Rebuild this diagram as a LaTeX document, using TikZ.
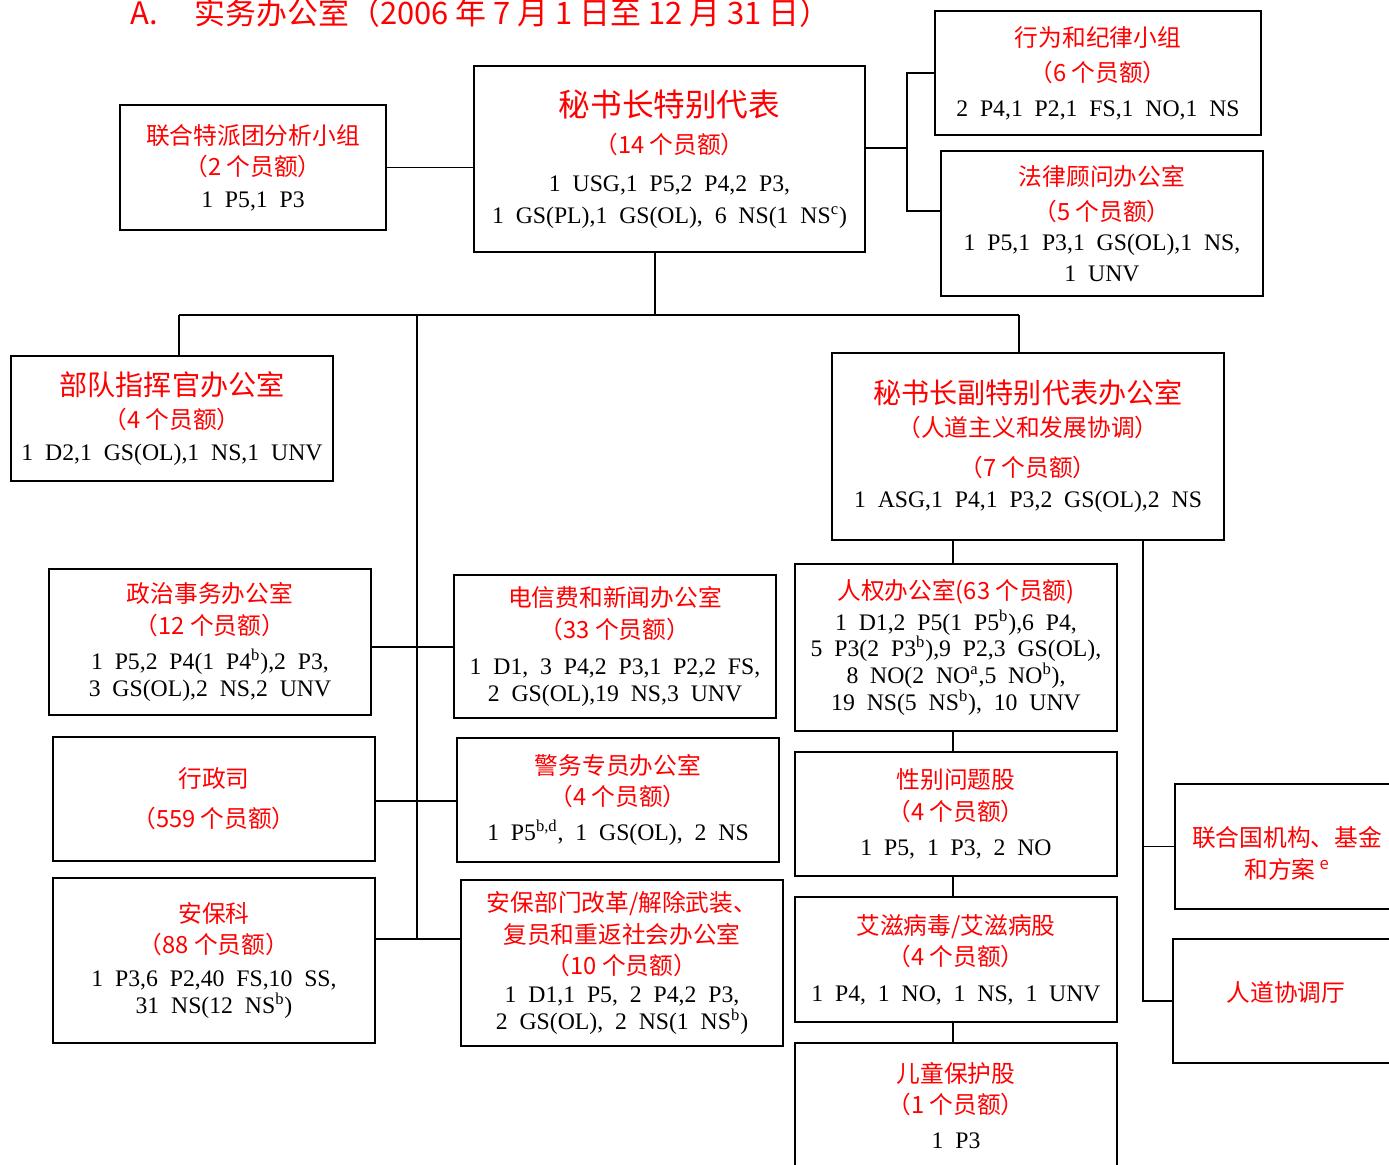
\documentclass[tikz,border=0pt]{standalone}
\usepackage{fontspec}
\setmainfont{Liberation Serif}[WordSpace=2]
\newfontfamily\hei{Noto Sans CJK SC}
\usepackage{tikz}
\usetikzlibrary{calc,positioning}

\newcommand{\rtxt}[1]{{\hei\fontsize{13.5}{18}\selectfont\color{red}#1}}
\newcommand{\rbig}[1]{{\hei\fontsize{16}{18}\selectfont\color{red}#1}}
\newcommand{\rhuge}[1]{{\hei\fontsize{18}{18}\selectfont\color{red}#1}}

\begin{document}
\begin{tikzpicture}[x=0.02cm, y=-0.02cm,
    unitbox/.style 2 args={draw, line width=1.1pt, minimum width=#1*0.02cm, minimum height=#2*0.02cm,
        inner sep=0pt, align=center, font=\fontsize{13.5}{18}\selectfont},
    link/.style={line width=1.1pt},
    buslink/.style={line width=1.6pt}
    ]
    \useasboundingbox (0,0) rectangle (1389,1164);
    \clip (0,0) rectangle (1389,1164);

    \node[anchor=west, inner sep=0pt, text=red, font=\hei\fontsize{17.6}{20}\selectfont] (title) at (130,13)
        {A.\hspace{1.2em}实务办公室（2006 年 7 月 1 日至 12 月 31 日）};

    % top level
    \node[unitbox={266}{125}] (jmac) at (253,167.5)
        {\rtxt{联合特派团分析小组}\\\rtxt{（2 个员额）}\\1 P5,1 P3};
    \node[unitbox={391}{186}] (srsg) at (669.5,159)
        {\rhuge{秘书长特别代表}\\[3pt]\rtxt{（14 个员额）}\\[4pt]1 USG,1 P5,2 P4,2 P3,\\1 GS(PL),1 GS(OL), 6 NS(1 NS\textsuperscript{c})};
    \node[unitbox={326}{124}] (conduct) at (1098,73)
        {\rtxt{行为和纪律小组}\\[2pt]\rtxt{（6 个员额）}\\[2pt]2 P4,1 P2,1 FS,1 NO,1 NS};
    \node[unitbox={322}{145}] (legal) at (1102,223.5)
        {\rtxt{法律顾问办公室}\\[2pt]\rtxt{（5 个员额）}\\[-1pt]1 P5,1 P3,1 GS(OL),1 NS,\\1 UNV};

    % second level
    \node[unitbox={322}{125}] (fc) at (172,418.5)
        {\rbig{部队指挥官办公室}\\[0.7pt]\rtxt{（4 个员额）}\\1 D2,1 GS(OL),1 NS,1 UNV};
    \node[unitbox={392}{187}] (dsrsg) at (1028,446.5)
        {\rbig{秘书长副特别代表办公室}\\[0.7pt]\rtxt{（人道主义和发展协调）}\\[4.5pt]\rtxt{（7 个员额）}\\1 ASG,1 P4,1 P3,2 GS(OL),2 NS};

    % left column
    \node[unitbox={322}{146}] (pa) at (210,642)
        {\rtxt{政治事务办公室}\\\rtxt{（12 个员额）}\\[2.4pt]1 P5,2 P4(1 P4\textsuperscript{b}),2 P3,\\[-2.7pt]3 GS(OL),2 NS,2 UNV};
    \node[unitbox={322}{124}] (adm) at (214,799)
        {\rtxt{行政司}\\[4.7pt]\rtxt{（559 个员额）}};
    \node[unitbox={322}{165}] (sec) at (214,960.5)
        {\rtxt{安保科}\\\rtxt{（88 个员额）}\\[0.7pt]1 P3,6 P2,40 FS,10 SS,\\[-2.7pt]31 NS(12 NS\textsuperscript{b})};

    % middle column
    \node[unitbox={322}{143}] (tel) at (615,646.5)
        {\rtxt{电信费和新闻办公室}\\\rtxt{（33 个员额）}\\[2.4pt]1 D1, 3 P4,2 P3,1 P2,2 FS,\\[-2.7pt]2 GS(OL),19 NS,3 UNV};
    \node[unitbox={322}{124}] (police) at (618,800)
        {\rtxt{警务专员办公室}\\\rtxt{（4 个员额）}\\[2pt]1 P5\textsuperscript{b,d}, 1 GS(OL), 2 NS};
    \node[unitbox={322}{166}] (ssr) at (622,963)
        {\rtxt{安保部门改革/解除武装、}\\\rtxt{复员和重返社会办公室}\\\rtxt{（10 个员额）}\\[-2.1pt]1 D1,1 P5, 2 P4,2 P3,\\[-2.7pt]2 GS(OL), 2 NS(1 NS\textsuperscript{b})};

    % right column
    \node[unitbox={322}{167}] (hr) at (956,647.5)
        {\rtxt{人权办公室(63 个员额)}\\[-0.4pt]1 D1,2 P5(1 P5\textsuperscript{b}),6 P4,\\[-3.3pt]5 P3(2 P3\textsuperscript{b}),9 P2,3 GS(OL),\\[-2.7pt]8 NO(2 NO\textsuperscript{a},5 NO\textsuperscript{b}),\\[-2.7pt]19 NS(5 NS\textsuperscript{b}), 10 UNV};
    \node[unitbox={322}{124}] (gen) at (956,814)
        {\rtxt{性别问题股}\\\rtxt{（4 个员额）}\\[2pt]1 P5, 1 P3, 2 NO};
    \node[unitbox={322}{125}] (aids) at (956,959.5)
        {\rtxt{艾滋病毒/艾滋病股}\\\rtxt{（4 个员额）}\\[2pt]1 P4, 1 NO, 1 NS, 1 UNV};
    \node[unitbox={322}{125}] (cp) at (956,1105.5)
        {\rtxt{儿童保护股}\\\rtxt{（1 个员额）}\\[2pt]1 P3};

    \node[unitbox={224}{125}, label={[yshift=-4pt, align=center, font=\fontsize{13.5}{18}\selectfont]center:\rtxt{联合国机构、基金}\\\rtxt{和方案\,\textsuperscript{e}}}] (agency) at (1287,846.5) {};
    \node[unitbox={226}{124}, label={[yshift=5pt]center:\rtxt{人道协调厅}}] (ocha) at (1286,1001) {};

    % junction points
    \coordinate (jr) at (907,148);
    \coordinate (lg) at (941,211);
    \coordinate (bus) at (655,315);
    \coordinate (busL) at (179,315);
    \coordinate (busR) at (1019,315);
    \coordinate (spine) at (417,315);
    \coordinate (chain) at (953,540);
    \coordinate (sp2) at (1143,540);

    \draw[link] (jmac.east) -- (jmac.east -| srsg.west);
    \draw[link] (srsg.east |- jr) -- (jr);
    \draw[link] (conduct.west) -| (jr) |- (lg);

    \draw[link] (bus |- srsg.south) -- (bus);
    \draw[buslink] (busL) -- (busR);
    \draw[link] (busL) -- (busL |- fc.north);
    \draw[link] (busR) -- (busR |- dsrsg.north);

    \foreach \lft/\rgt/\yy in {pa/tel/647, adm/police/801, sec/ssr/939} {
        \coordinate (br\lft) at (417,\yy);
        \draw[link] (\lft.east |- br\lft) -- (\rgt.west |- br\lft);
    }
    \draw[link] (spine) -- (brsec);

    \foreach \u [remember=\u as \prev (initially dsrsg)] in {hr,gen,aids,cp} {
        \draw[link] (\prev.south -| chain) -- (\u.north -| chain);
    }

    \draw[link] (sp2) |- (ocha.west);
    \draw[link] (agency.west) -- (agency.west -| sp2);
\end{tikzpicture}
\end{document}
